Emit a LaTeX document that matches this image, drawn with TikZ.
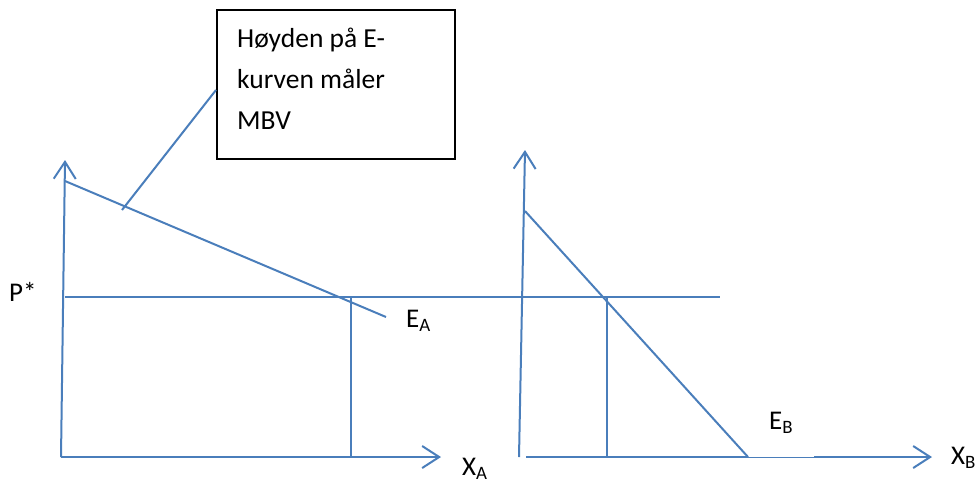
\documentclass[tikz,border=0pt]{standalone}
\usepackage{fontspec}
\setmainfont{Carlito}
\usetikzlibrary{arrows.meta}
\definecolor{lineblue}{RGB}{74,126,187}
\tikzset{
  curve/.style={draw=lineblue, line width=2pt},
  axis/.style={draw=lineblue, line width=2pt, -{Straight Barb[length=17pt,width=22pt,line width=2pt]}},
  lbl/.style={font=\fontsize{27}{30}\selectfont, inner sep=0pt, anchor=west},
  boxtxt/.style={font=\fontsize{27.5}{30}\selectfont, inner sep=0pt, anchor=base west},
  callbox/.style={draw=black, line width=1.5pt, minimum width=238pt, minimum height=149pt, inner sep=0pt, anchor=north west}
}
\begin{document}
\begin{tikzpicture}[x=1pt,y=-1pt]
\useasboundingbox (0,0) rectangle (979,491);
% left diagram
\coordinate (oA) at (61,457);
\coordinate (yA) at (65,160);
\coordinate (xA) at (441,457);
\coordinate (eA1) at (65,181);
\coordinate (eA2) at (386,317);
\coordinate (pL) at (65,297);
\coordinate (pR) at (720,297);
\coordinate (dA1) at (351,297);
\coordinate (dA2) at (351,457);
\coordinate (cA) at (122,210);
% right diagram
\coordinate (oB) at (519,457);
\coordinate (yB) at (525,150);
\coordinate (xB0) at (526,457);
\coordinate (xB1) at (748,457);
\coordinate (xB2) at (814,457);
\coordinate (xB) at (932,457);
\coordinate (eB1) at (525,211);
\coordinate (dB1) at (607,297);
\coordinate (dB2) at (607,457);

\node[callbox] (box) at (216,9) {};
\node[boxtxt] (t1) at (237,47) {Høyden på E-};
\node[boxtxt] (t2) at (237,88) {kurven måler};
\node[boxtxt] (t3) at (237,129) {MBV};
\coordinate (boxhit) at (216,90);

\draw[axis] (oA) -- (yA);
\draw[axis] (oA) -- (xA);
\draw[curve] (eA1) -- (eA2);
\draw[curve] (pL) -- (pR);
\draw[curve] (dA1) -- (dA2);
\draw[curve] (cA) -- (boxhit);

\draw[axis] (oB) -- (yB);
\draw[curve] (xB0) -- (xB1);
\draw[draw=lineblue, line width=1pt] (xB1) -- (xB2);
\draw[axis] (xB2) -- (xB);
\draw[curve] (eB1) -- (xB1);
\draw[curve] (dB1) -- (dB2);

\node[lbl] (pstar) at (9,292) {P*};
\node[lbl] (ea) at (406,321) {E\textsubscript{A}};
\node[lbl] (xa) at (462,469) {X\textsubscript{A}};
\node[lbl] (eb) at (769,423) {E\textsubscript{B}};
\node[lbl] (xb) at (951,458) {X\textsubscript{B}};
\end{tikzpicture}
\end{document}
